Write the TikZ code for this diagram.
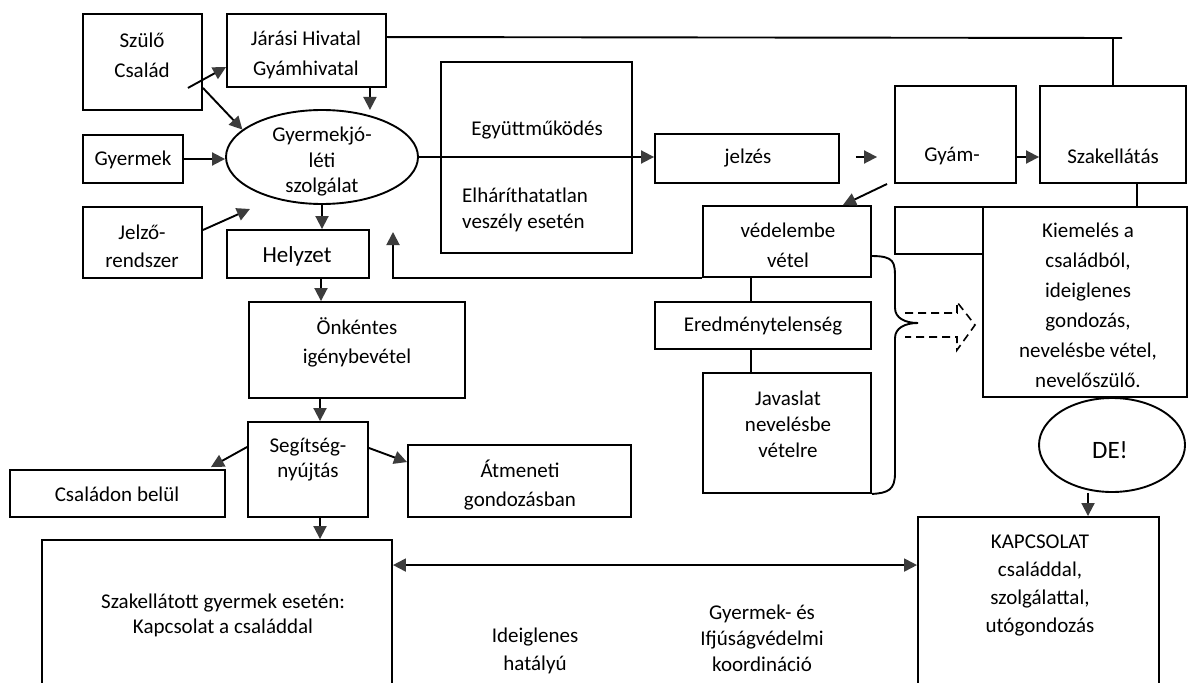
\documentclass[tikz,border=0pt]{standalone}
\usepackage{fontspec}
\setmainfont{Carlito}
\usetikzlibrary{arrows.meta,shapes.geometric,calc}
\definecolor{agray}{HTML}{3C3C3C}
\newcommand\fz[1]{\fontsize{21}{#1}\selectfont}
\tikzset{
  box/.style={draw, line width=1.9pt, inner sep=0pt},
  oval/.style={draw, ellipse, line width=1.9pt, inner sep=0pt},
  txt/.style={inner sep=0pt, align=center, font=\fz{27}},
  arr/.style={line width=1.9pt, -{Triangle[length=13pt,width=13pt,color=agray]}},
  darr/.style={line width=1.9pt, {Triangle[length=13pt,width=13pt,color=agray]}-{Triangle[length=13pt,width=13pt,color=agray]}},
  ln/.style={line width=1.9pt},
}
\begin{document}
\begin{tikzpicture}[x=1pt,y=-1pt]
\useasboundingbox (0,0) rectangle (1190,682);
\clip (0,0) rectangle (1190,682);
\fill[white] (0,0) rectangle (1190,682);
% boxes
\node[box, minimum width=119, minimum height=96] (szulo) at (142.5,62) {};
\node[box, minimum width=159, minimum height=73] (jarasi) at (306.5,50.5) {};
\node[box, minimum width=100, minimum height=48] (gyermek) at (133,159) {};
\node[oval, minimum width=192, minimum height=94] (gyj) at (322,157) {};
\node[box, minimum width=119, minimum height=71] (jelzo) at (142.5,242.5) {};
\node[box, minimum width=142, minimum height=48] (helyzet) at (298,254) {};
\node[box, minimum width=216, minimum height=96] (onkentes) at (357,350) {};
\node[box, minimum width=120, minimum height=95] (segitseg) at (308,469.5) {};
\node[box, minimum width=215, minimum height=47] (csaladon) at (117.5,493.5) {};
\node[box, minimum width=223, minimum height=72] (atmeneti) at (519.5,481) {};
\node[box, minimum width=350, minimum height=180] (szakgy) at (217,630) {};
\node[box, minimum width=191, minimum height=191] (egyutt) at (536.5,157.5) {};
\node[box, minimum width=184, minimum height=49] (jelzes) at (747,158.5) {};
\node[box, minimum width=121, minimum height=97] (gyam) at (955.5,134.5) {};
\node[box, minimum width=146, minimum height=97] (szak) at (1113,134.5) {};
\node[box, minimum width=168, minimum height=71] (vedelembe) at (787,241.5) {};
\node[box, minimum width=216, minimum height=47] (eredmeny) at (763,325.5) {};
\node[box, minimum width=168, minimum height=120] (javaslat) at (787,433) {};
\node[box, minimum width=88, minimum height=47] (ures) at (939,230.5) {};
\node[box, minimum width=204, minimum height=190] (kiemeles) at (1085,302) {};
\node[oval, minimum width=146, minimum height=94] (de) at (1112,445) {};
\node[box, minimum width=241, minimum height=203] (kapcs) at (1038.5,618.5) {};
% texts
\node[txt, font=\fz{30}] (t-szulo) at (142,55) {Szülő\\Család};
\node[txt, font=\fz{30}] (t-jarasi) at (306,55) {Járási Hivatal\\Gyámhivatal};
\node[txt] (t-gyermek) at (133,160) {Gyermek};
\node[txt, font=\fz{25.5}] (t-gyj) at (322,162) {Gyermekjó-\\léti\\szolgálat};
\node[txt, font=\fz{28}] (t-jelzo) at (142,246) {Jelző-\\rendszer};
\node[txt, font=\fontsize{23}{28}\selectfont] (t-helyzet) at (297,256) {Helyzet};
\node[txt, font=\fz{29}] (t-onk) at (357,342) {Önkéntes\\igénybevétel};
\node[txt, font=\fz{25}] (t-seg) at (308,460) {Segítség-\\nyújtás};
\node[txt] (t-csal) at (117,494) {Családon belül};
\node[txt, font=\fz{29}] (t-atm) at (520,485) {Átmeneti\\gondozásban};
\node[txt, font=\fz{25}] (t-szakgy) at (223,615) {Szakellátott gyermek esetén:\\Kapcsolat a családdal};
\node[txt, font=\fz{28}] (t-ideig) at (535,651) {Ideiglenes\\hatályú};
\node[txt, font=\fz{26}] (t-koord) at (762,638) {Gyermek- és\\Ifjúságvédelmi\\koordináció};
\node[txt] (t-egy) at (537,130) {Együttműködés};
\node[txt, font=\fz{26}, align=left, anchor=west] (t-elh) at (462,210) {Elháríthatatlan\\veszély esetén};
\node[txt] (t-jelzes) at (748,158) {jelzés};
\node[txt] (t-gyam) at (952,156) {Gyám-};
\node[txt] (t-szak) at (1113,156) {Szakellátás};
\node[txt, font=\fz{30}] (t-ved) at (788,245) {védelembe\\vétel};
\node[txt] (t-ered) at (763,326) {Eredménytelenség};
\node[txt, font=\fz{26}] (t-jav) at (788,424) {Javaslat\\nevelésbe\\vételre};
\node[txt, font=\fz{30}] (t-kiem) at (1088,305) {Kiemelés a\\családból,\\ideiglenes\\gondozás,\\nevelésbe vétel,\\nevelőszülő.};
\node[txt, font=\fontsize{25}{30}\selectfont] (t-de) at (1110,450) {DE!};
\node[txt, font=\fz{28}] (t-kapcs) at (1040,585) {KAPCSOLAT\\családdal,\\szolgálattal,\\utógondozás};
% connectors
\draw[arr] ([xshift=-15pt,yshift=23pt]szulo.south east) -- ([yshift=-16.5pt]jarasi.west);
\draw[arr] ([yshift=23pt]szulo.south east) -- (gyj.161);
\draw[arr] ([xshift=-17pt]jarasi.south east) -- ([xshift=-17pt,yshift=-22pt]jarasi.south east);
\draw[arr] (gyermek.east) -- (gyermek.east -| gyj.west);
\draw[arr] ([yshift=12.5pt]jelzo.east) -- ++(47,-21);
\draw[arr] (gyj.south) -- (gyj.south |- helyzet.north);
\draw[arr] ([xshift=-1pt]gyj.south |- helyzet.south) -- ([xshift=-1pt]gyj.south |- onkentes.north);
\draw[arr] ([xshift=-2pt]gyj.south |- onkentes.south) -- ([xshift=-2pt]gyj.south |- segitseg.north);
\draw[arr] ([xshift=-2pt]gyj.south |- segitseg.south) -- ([xshift=-2pt]gyj.south |- szakgy.north);
\draw[arr] ([yshift=22.5pt]segitseg.west) -- ([xshift=-15pt,yshift=2pt]csaladon.north east);
\draw[arr] ([yshift=21.5pt]segitseg.east) -- ([yshift=-18pt]atmeneti.north west);
\draw[arr] (gyj.east) -- (gyj.east -| jelzes.west);
\draw[arr, shorten <=16pt, shorten >=17pt] ([yshift=-22.5pt]gyam.west -| jelzes.east) -- ([yshift=-22.5pt]gyam.west);
\draw[arr] ([yshift=-22.5pt]gyam.east) -- ([yshift=-22.5pt]szak.west);
\draw[arr] ([xshift=-7pt]gyam.south west) -- ([xshift=-29pt]vedelembe.north east);
\coordinate (tl) at (1122,38);
\draw[ln] ([yshift=-24pt]jarasi.north east) -- (tl);
\draw[ln] (szak.north |- tl) -- (szak.north);
\draw[ln] ([xshift=24pt]szak.south) -- ([xshift=24pt]szak.south |- kiemeles.north);
\coordinate (up) at (393,232);
\draw[arr] (vedelembe.south west) -| (up);
\draw[ln] ([xshift=-36pt]vedelembe.south) -- ([xshift=-36pt]vedelembe.south |- eredmeny.north);
\draw[ln] ([xshift=-36pt]vedelembe.south |- eredmeny.south) -- ([xshift=-36pt]vedelembe.south |- javaslat.north);
\draw[arr] ([xshift=-24pt]de.south) -- ([xshift=-24pt]de.south |- kapcs.north);
\draw[darr] ([yshift=-26pt]szakgy.north east) -- ([yshift=-49pt]kapcs.north west);
% dashed block arrow
\draw[line width=1.6pt, dash pattern=on 8pt off 5pt] (905,313) -- (957,313) -- (957,302) -- (975,325) -- (957,350) -- (957,337) -- (905,337);
% brace
\coordinate (bt) at (871,256);
\draw[ln] (bt) .. controls (895,256) and (895,262) .. (895,280) -- (895,308) .. controls (895,318) and (905,323) .. (918,323) .. controls (905,323) and (895,328) .. (895,338) -- (895,473) .. controls (895,490) and (888,493) .. (javaslat.south east);
\end{tikzpicture}
\end{document}
